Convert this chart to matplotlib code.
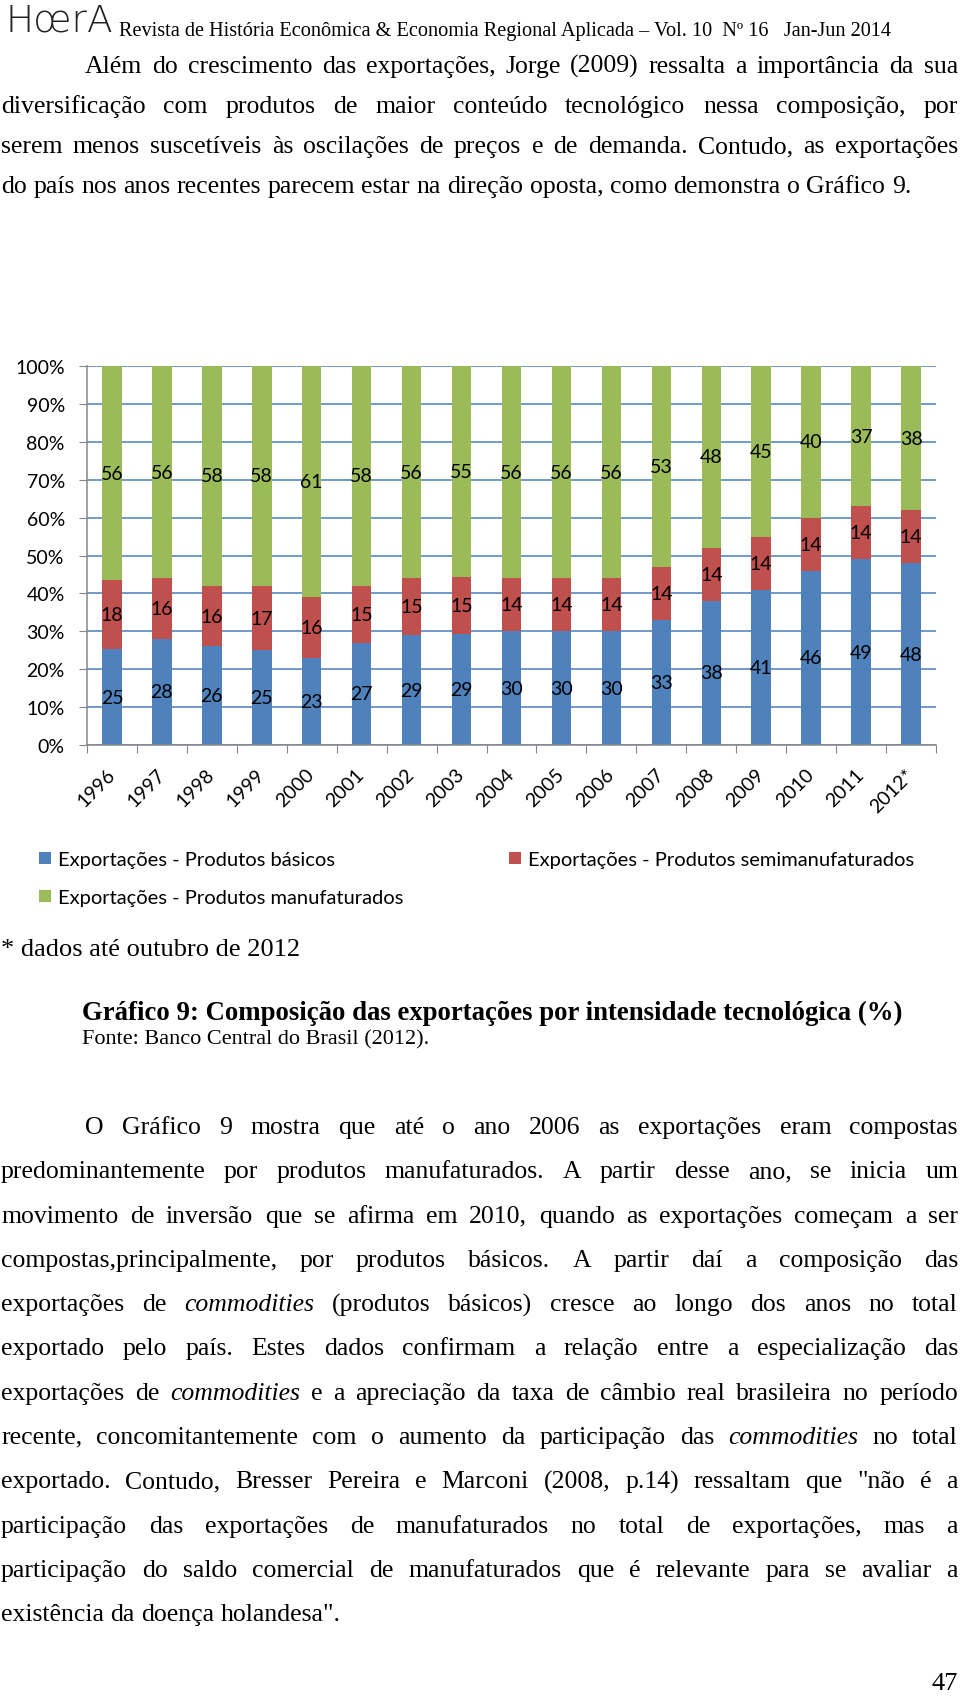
import matplotlib.pyplot as plt
from matplotlib.patches import Patch
import numpy as np

W, H = 960, 1699

# chart data (values printed on the bars, %)
years = ["1996", "1997", "1998", "1999", "2000", "2001", "2002", "2003", "2004",
         "2005", "2006", "2007", "2008", "2009", "2010", "2011", "2012*"]
basicos = [25, 28, 26, 25, 23, 27, 29, 29, 30, 30, 30, 33, 38, 41, 46, 49, 48]
semimanuf = [18, 16, 16, 17, 16, 15, 15, 15, 14, 14, 14, 14, 14, 14, 14, 14, 14]
manuf = [56, 56, 58, 58, 61, 58, 56, 55, 56, 56, 56, 53, 48, 45, 40, 37, 38]
series_names = ["Exportações - Produtos básicos",
                "Exportações - Produtos semimanufaturados",
                "Exportações - Produtos manufaturados"]
series_colors = ["#4F81BD", "#C0504D", "#9BBB59"]
y_ticks = list(range(0, 101, 10))

# page text
header = "Revista de História Econômica & Economia Regional Aplicada – Vol. 10  Nº 16   Jan-Jun 2014"
para1 = [
    "Além do crescimento das exportações, Jorge (2009) ressalta a importância da sua",
    "diversificação com produtos de maior conteúdo tecnológico nessa composição, por",
    "serem menos suscetíveis às oscilações de preços e de demanda. Contudo, as exportações",
    "do país nos anos recentes parecem estar na direção oposta, como demonstra o Gráfico 9.",
]
para2 = [
    "O Gráfico 9 mostra que até o ano 2006 as exportações eram compostas",
    "predominantemente por produtos manufaturados. A partir desse ano, se inicia um",
    "movimento de inversão que se afirma em 2010, quando as exportações começam a ser",
    "compostas,principalmente, por produtos básicos. A partir daí a composição das",
    "exportações de *commodities* (produtos básicos) cresce ao longo dos anos no total",
    "exportado pelo país. Estes dados confirmam a relação entre a especialização das",
    "exportações de *commodities* e a apreciação da taxa de câmbio real brasileira no período",
    "recente, concomitantemente com o aumento da participação das *commodities* no total",
    "exportado. Contudo, Bresser Pereira e Marconi (2008, p.14) ressaltam que \"não é a",
    "participação das exportações de manufaturados no total de exportações, mas a",
    "participação do saldo comercial de manufaturados que é relevante para se avaliar a",
    "existência da doença holandesa\".",
]
footnote = "* dados até outubro de 2012"
caption = "Gráfico 9: Composição das exportações por intensidade tecnológica (%)"
source = "Fonte: Banco Central do Brasil (2012)."
page_number = "47"


def fx(x):
    return x / W


def fy(y):
    return 1 - y / H


fig = plt.figure(figsize=(W / 100, H / 100), dpi=100)
fig.patch.set_facecolor("white")
renderer = fig.canvas.get_renderer()

SERIF = "Liberation Serif"
SANS = "Lato"
BODY = 18.5
CHART = 14


def text_line(line, y, x0, x1, justify):
    items = []
    for word in line.split(" "):
        style = "normal"
        if word.startswith("*") and word.endswith("*"):
            word = word.strip("*")
            style = "italic"
        t = fig.text(0, fy(y), word, family=SERIF, size=BODY, style=style,
                     va="baseline", ha="left")
        items.append(t)
    widths = [t.get_window_extent(renderer).width for t in items]
    if justify and len(items) > 1:
        gap = (x1 - x0 - sum(widths)) / (len(items) - 1)
    else:
        gap = BODY * 100 / 72 * 0.25
    pos = x0
    for t, w in zip(items, widths):
        t.set_x(fx(pos))
        pos += w + gap


def paragraph(lines, y0, step, indent=85, left=1, right=958):
    for i, line in enumerate(lines):
        x0 = indent if i == 0 else left
        text_line(line, y0 + i * step, x0, right, justify=i < len(lines) - 1)


# header
fig.text(fx(5), fy(31), "HœrA", family="DejaVu Sans", weight="light", size=27,
         va="baseline", ha="left", color="#222222")
fig.text(fx(119), fy(36), header, family=SERIF, size=14.6, va="baseline", ha="left")

paragraph(para1, 73, 40)

# chart
ax = fig.add_axes([fx(87), fy(746), (936 - 87) / W, (746 - 367) / H])
x = np.arange(len(years))
totals = np.array(basicos) + np.array(semimanuf) + np.array(manuf)
bottom = np.zeros(len(years))
handles = []
for vals, color, name in zip([basicos, semimanuf, manuf], series_colors, series_names):
    share = np.array(vals) / totals * 100
    bars = ax.bar(x, share, 0.39, bottom=bottom, color=color, zorder=3)
    ax.bar_label(bars, labels=[str(v) for v in vals], label_type="center",
                 family=SANS, size=CHART, color="black", zorder=4)
    bottom += share
    handles.append(Patch(facecolor=color, label=name))

ax.set_xlim(-0.5, len(years) - 0.5)
ax.set_ylim(0, 100)
ax.set_yticks(y_ticks)
ax.set_yticklabels([f"{v}%" for v in y_ticks], family=SANS, size=CHART)
ax.set_xticks(np.arange(-0.5, len(years), 1))
ax.set_xticklabels([])
ax.set_xticks(x, minor=True)
ax.set_xticklabels(years, minor=True, rotation=45, ha="right", va="center",
                   rotation_mode="anchor", family=SANS, size=CHART)
ax.tick_params(axis="x", which="major", length=6, color="#868686", direction="out")
ax.tick_params(axis="x", which="minor", length=0, pad=19)
ax.tick_params(axis="y", length=6, color="#868686", direction="out", pad=10)
ax.yaxis.grid(True, color="#4A7EBB", linewidth=1.1, zorder=0)
ax.set_axisbelow(True)
for side in ["top", "right"]:
    ax.spines[side].set_visible(False)
for side in ["left", "bottom"]:
    ax.spines[side].set_color("#868686")
    ax.spines[side].set_linewidth(1.1)
    ax.spines[side].set_zorder(5)

# legend: two columns, second column starting under x = 509 px
LEG = 14.5
leg_px = LEG * 100 / 72
probe = fig.text(0, 0, series_names[2], family=SANS, size=LEG)
col1_w = probe.get_window_extent(renderer).width
probe.remove()
colspace = (509 - 39 - 0.6 * leg_px - 0.35 * leg_px - col1_w) / leg_px
fig.legend(handles=[handles[0], handles[2], handles[1]], ncol=2, loc="upper left",
           bbox_to_anchor=(fx(39 - 0.4 * leg_px), fy(844)), frameon=False,
           prop={"family": SANS, "size": LEG}, handlelength=0.6, handleheight=0.6,
           handletextpad=0.35, columnspacing=colspace, labelspacing=1.05,
           borderaxespad=0, borderpad=0.4)

fig.text(fx(1), fy(956), footnote, family=SERIF, size=19, va="baseline", ha="left")
fig.text(fx(82), fy(1020), caption, family=SERIF, size=19.3, weight="bold",
         va="baseline", ha="left")
fig.text(fx(82), fy(1044), source, family=SERIF, size=16, va="baseline", ha="left")

paragraph(para2, 1134, 44.3)

fig.text(fx(958), fy(1690), page_number, family=SERIF, size=19, va="baseline", ha="right")

fig.savefig("out.png", dpi=100, facecolor="white")
